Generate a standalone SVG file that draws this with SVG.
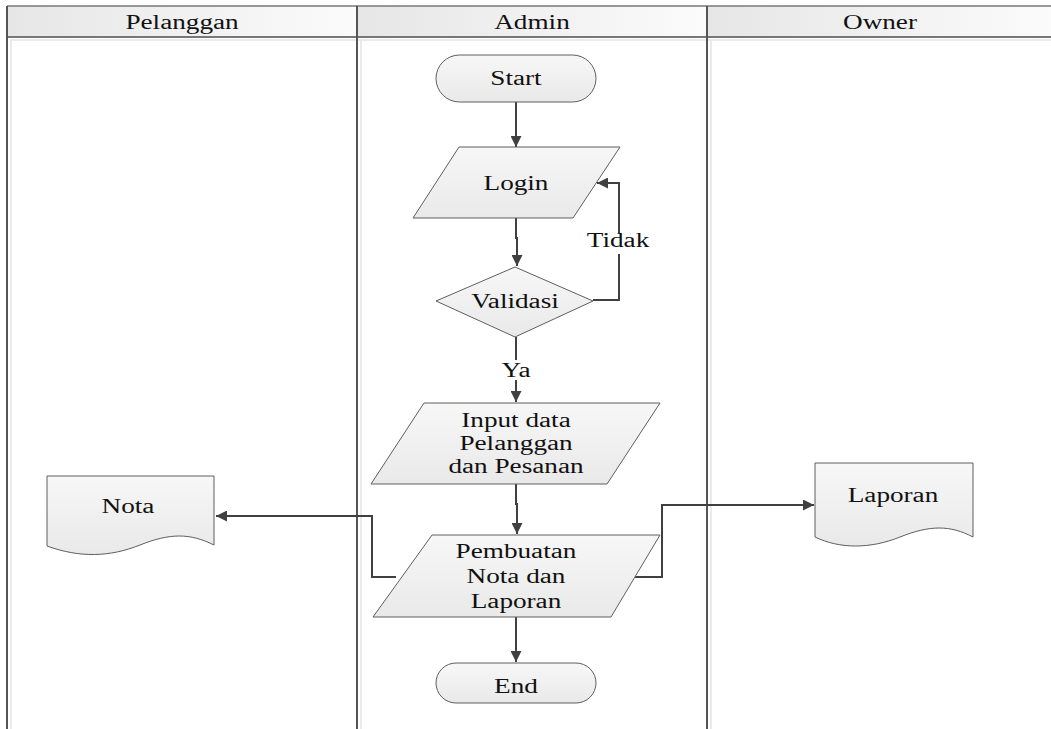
<svg xmlns="http://www.w3.org/2000/svg" width="1051" height="729" viewBox="0 0 1051 729">
<defs>
<linearGradient id="hdr" x1="0" y1="0" x2="1" y2="0">
<stop offset="0" stop-color="#e6e6e6"/><stop offset="1" stop-color="#fbfbfb"/>
</linearGradient>
<linearGradient id="shp" x1="0" y1="0" x2="0" y2="1">
<stop offset="0" stop-color="#f7f7f7"/><stop offset="1" stop-color="#e9e9e9"/>
</linearGradient>
<marker id="arr" viewBox="0 0 10 10" refX="10" refY="5" markerWidth="5.5" markerHeight="5.5" orient="auto" markerUnits="strokeWidth">
<path d="M0,0 L10,5 L0,10 z" fill="#404040"/>
</marker>
</defs>
<style>
.t{font-family:"Liberation Serif","Times New Roman",serif;font-size:20px;fill:#111;text-anchor:middle}
.s{fill:url(#shp);stroke:#5e5e5e;stroke-width:1}
.c{fill:none;stroke:#404040;stroke-width:2}
.lane{stroke:#555;stroke-width:2}
.sh{stroke:#e4e4e4;stroke-width:1.5}
</style>
<rect width="1051" height="729" fill="#fff"/>
<g id="lanes">
<rect x="7" y="6" width="350" height="31" fill="url(#hdr)"/>
<rect x="357" y="6" width="350" height="31" fill="url(#hdr)"/>
<rect x="707" y="6" width="344" height="31" fill="url(#hdr)"/>
<line class="sh" x1="10" y1="40" x2="1051" y2="40"/>
<line class="sh" x1="11" y1="40" x2="11" y2="729"/>
<line class="sh" x1="361" y1="40" x2="361" y2="729"/>
<line class="sh" x1="711" y1="40" x2="711" y2="729"/>
<line x1="7" y1="6" x2="1051" y2="6" stroke="#777" stroke-width="1.5"/>
<line x1="7" y1="37" x2="1051" y2="37" stroke="#777" stroke-width="2"/>
<line class="lane" x1="7" y1="6" x2="7" y2="729"/>
<line class="lane" x1="357" y1="6" x2="357" y2="729"/>
<line class="lane" x1="707" y1="6" x2="707" y2="729"/>
<text class="t" transform="translate(182,29) scale(1.36,1)">Pelanggan</text>
<text class="t" transform="translate(532,29) scale(1.36,1)">Admin</text>
<text class="t" transform="translate(880,29) scale(1.36,1)">Owner</text>
</g>
<g id="connectors">
<line class="c" x1="516" y1="102" x2="516" y2="147" marker-end="url(#arr)"/>
<polyline class="c" points="516,218 516,238 517,238 517,266" marker-end="url(#arr)"/>
<polyline class="c" points="593,300 619,300 619,183 597,183" marker-end="url(#arr)"/>
<polyline class="c" points="516,337 516,402" marker-end="url(#arr)"/>
<polyline class="c" points="516,484 516,504 517,504 517,534" marker-end="url(#arr)"/>
<polyline class="c" points="396,577 372,577 372,516 216,516" marker-end="url(#arr)"/>
<polyline class="c" points="635,577 662,577 662,505 814,505" marker-end="url(#arr)"/>
<line class="c" x1="516" y1="617" x2="516" y2="662" marker-end="url(#arr)"/>
<rect x="586" y="234" width="66" height="20" fill="#fff"/>
<text class="t" transform="translate(618,247) scale(1.36,1)">Tidak</text>
<rect x="500" y="360" width="32" height="20" fill="#fff"/>
<text class="t" transform="translate(516,377) scale(1.36,1)">Ya</text>
</g>
<g id="start">
<rect class="s" x="436" y="55" width="160" height="47" rx="23.5"/>
<text class="t" transform="translate(516,85) scale(1.36,1)">Start</text>
</g>
<g id="login">
<polygon class="s" points="459,147 620,147 573,218 413,218"/>
<text class="t" transform="translate(516,190) scale(1.36,1)">Login</text>
</g>
<g id="validasi">
<polygon class="s" points="515,267 593,301 515,337 436,301"/>
<text class="t" transform="translate(515,308) scale(1.36,1)">Validasi</text>
</g>
<g id="input">
<polygon class="s" points="424,403 660,403 607,484 371,484"/>
<text class="t" transform="translate(516,427) scale(1.36,1)">Input data</text>
<text class="t" transform="translate(516,450) scale(1.36,1)">Pelanggan</text>
<text class="t" transform="translate(516,473) scale(1.36,1)">dan Pesanan</text>
</g>
<g id="pembuatan">
<polygon class="s" points="432,535 660,535 611,617 373,617"/>
<text class="t" transform="translate(516,558) scale(1.36,1)">Pembuatan</text>
<text class="t" transform="translate(516,583) scale(1.36,1)">Nota dan</text>
<text class="t" transform="translate(516,608) scale(1.36,1)">Laporan</text>
</g>
<g id="end">
<rect class="s" x="436" y="663" width="160" height="40" rx="20"/>
<text class="t" transform="translate(516,693) scale(1.36,1)">End</text>
</g>
<g id="nota">
<path class="s" d="M47,476 H214 V545 C190,533 170,533 140,545 C110,557 80,558 47,546 Z"/>
<text class="t" transform="translate(128,513) scale(1.36,1)">Nota</text>
</g>
<g id="laporan">
<path class="s" d="M815,463 H973 V537 C950,525 930,525 900,537 C870,549 840,549 815,537 Z"/>
<text class="t" transform="translate(893,502) scale(1.36,1)">Laporan</text>
</g>
</svg>
